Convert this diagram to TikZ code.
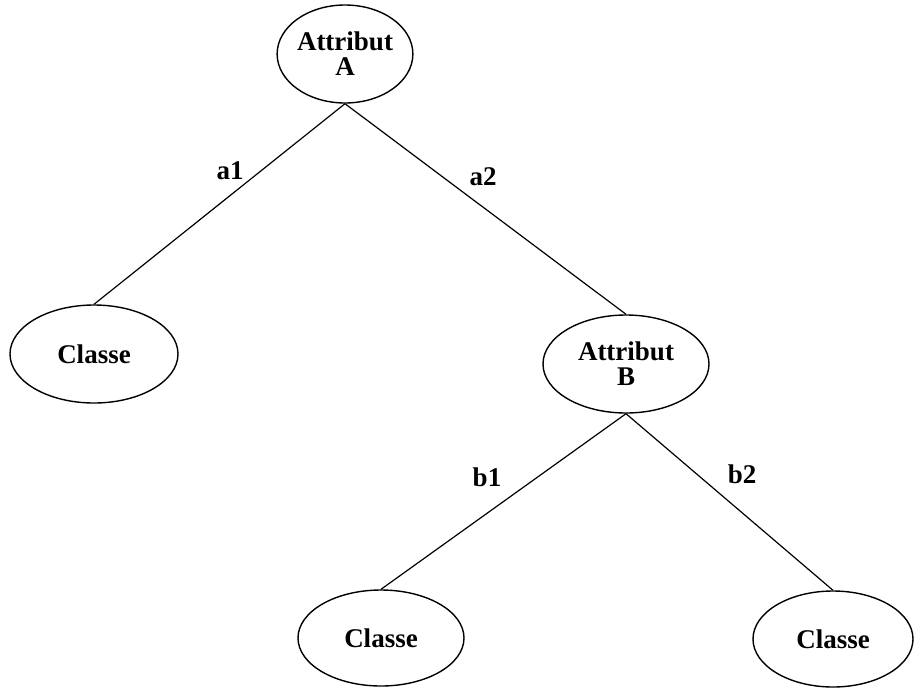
\documentclass[tikz,border=0pt]{standalone}
\usepackage{fontspec}
\setmainfont{Liberation Serif}
\usetikzlibrary{shapes.geometric}
\begin{document}
\begin{tikzpicture}[x=1pt,y=-1pt,
  nd/.style={draw, ellipse, line width=1.4pt, inner sep=0pt, align=center,
    font=\fontsize{27}{25}\selectfont\bfseries},
  lbl/.style={font=\fontsize{27}{27}\selectfont\bfseries, inner sep=0pt},
  edge/.style={line width=1.2pt}]
\useasboundingbox (0,0) rectangle (915,688);
\node[nd, minimum width=134pt, minimum height=98pt] (A) at (345,54) {Attribut\\A};
\node[nd, minimum width=168pt, minimum height=98pt] (C1) at (94,354) {Classe};
\node[nd, minimum width=166pt, minimum height=98pt] (B) at (626,364) {Attribut\\B};
\node[nd, minimum width=166pt, minimum height=96pt] (C2) at (381,638) {Classe};
\node[nd, minimum width=160pt, minimum height=96pt] (C3) at (833,639) {Classe};
\draw[edge] (A.south) -- (C1.north);
\draw[edge] (A.south) -- (B.north);
\draw[edge] (B.south) -- (C2.north);
\draw[edge] (B.south) -- (C3.north);
\node[lbl] (la1) at (230,171) {a1};
\node[lbl] (la2) at (483,177) {a2};
\node[lbl] (lb1) at (487,477) {b1};
\node[lbl] (lb2) at (742,474) {b2};
\end{tikzpicture}
\end{document}
